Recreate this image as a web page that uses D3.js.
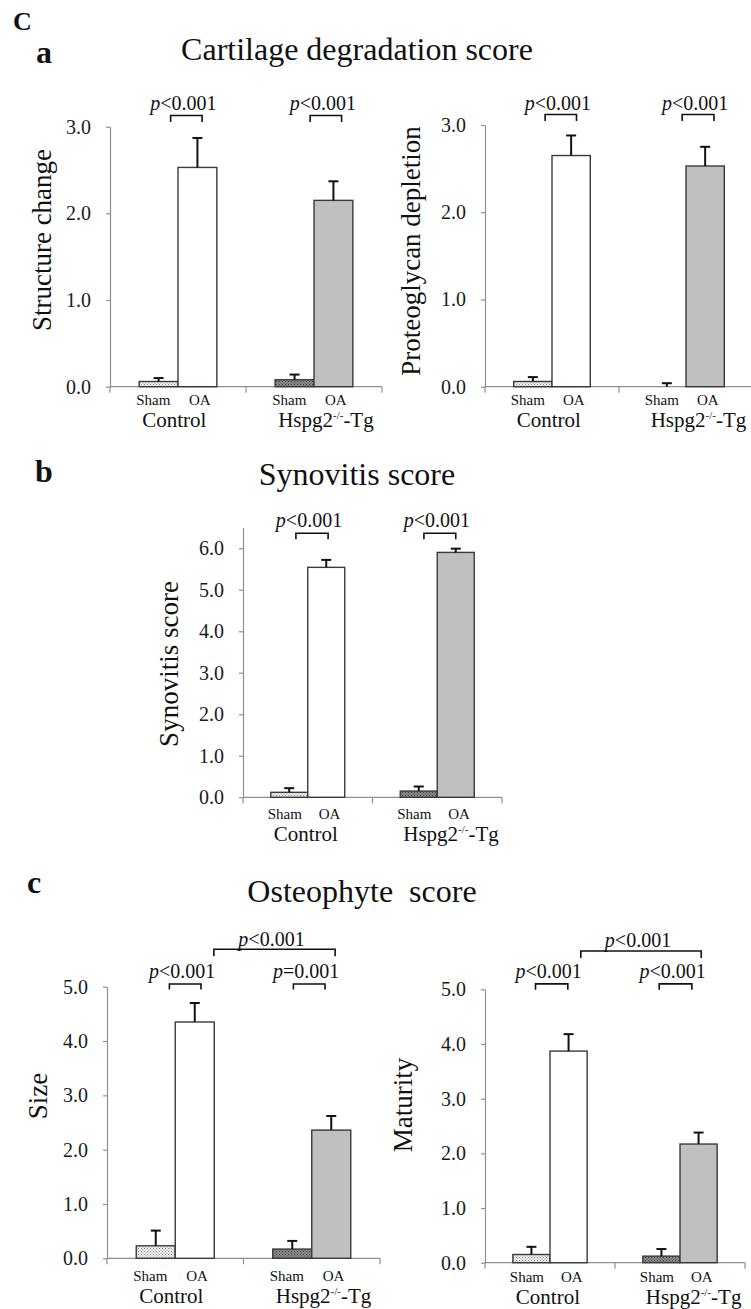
<!DOCTYPE html>
<html>
<head>
<meta charset="utf-8">
<script src="https://cdn.jsdelivr.net/npm/d3@7"></script>
<style>
  body { margin: 0; background: #fff; }
  svg { font-family: "Liberation Serif", "Times New Roman", serif; }
</style>
</head>
<body>
<svg id="fig" width="751" height="1309"></svg>
<script>
// ---- data ----
const groups = ["Control", "Hspg2"];
const treatments = ["Sham", "OA"];

const ticks3 = [0, 1, 2, 3];
const ticks6 = [0, 1, 2, 3, 4, 5, 6];
const ticks5 = [0, 1, 2, 3, 4, 5];

// order: Control Sham, Control OA, Hspg2 Sham, Hspg2 OA
const structureMean = [0.06, 2.53, 0.08, 2.15];
const structureSem = [0.04, 0.34, 0.06, 0.22];

const proteoglycanMean = [0.06, 2.65, 0.0, 2.53];
const proteoglycanSem = [0.05, 0.23, 0.04, 0.22];

const synovitisMean = [0.12, 5.54, 0.15, 5.90];
const synovitisSem = [0.10, 0.18, 0.11, 0.09];

const sizeMean = [0.23, 4.35, 0.17, 2.36];
const sizeSem = [0.28, 0.35, 0.15, 0.26];

const maturityMean = [0.15, 3.87, 0.12, 2.17];
const maturitySem = [0.14, 0.31, 0.13, 0.21];

const svg = d3.select("#fig");

// fill patterns for the sham bars
const defs = svg.append("defs");
function dots(id, bg, dot) {
  const p = defs.append("pattern").attr("id", id).attr("patternUnits", "userSpaceOnUse")
    .attr("width", 3).attr("height", 3);
  p.append("rect").attr("width", 3).attr("height", 3).attr("fill", bg);
  p.append("rect").attr("x", 0).attr("y", 0).attr("width", 1).attr("height", 1).attr("fill", dot);
  p.append("rect").attr("x", 1.5).attr("y", 1.5).attr("width", 1).attr("height", 1).attr("fill", dot);
}
dots("shamCtrl", "#f2f2f2", "#8a8a8a");
dots("shamTg", "#8c8c8c", "#3e3e3e");

const fills = {
  Control: { Sham: "url(#shamCtrl)", OA: "#ffffff" },
  Hspg2: { Sham: "url(#shamTg)", OA: "#c0c0c0" },
};

const axisColor = "#8f8f8f";

function panel(cfg) {
  const g = svg.append("g");
  const x = d3.scaleBand().domain(groups).range(cfg.xRange);
  const xi = d3.scaleBand().domain(treatments).range([0, x.bandwidth()])
    .paddingInner(0).paddingOuter(0.75);
  const bw = xi.bandwidth();
  const y = d3.scaleLinear().domain([0, cfg.max]).range(cfg.yRange);

  const rows = [];
  groups.forEach((gr, gi) => treatments.forEach((t, ti) => {
    rows.push({ g: gr, t: t, mean: cfg.mean[gi * 2 + ti], sem: cfg.sem[gi * 2 + ti] });
  }));

  // y axis
  const yAxis = d3.axisLeft(y).tickValues(cfg.ticks).tickFormat(d3.format(".1f"))
    .tickSize(4).tickSizeOuter(0).tickPadding(15);
  const ya = g.append("g").attr("transform", `translate(${cfg.xRange[0]},0)`).call(yAxis);
  ya.select(".domain").attr("stroke", axisColor).attr("stroke-width", 1.2);
  ya.selectAll(".tick line").attr("stroke", axisColor).attr("stroke-width", 1.2);
  ya.selectAll(".tick text").attr("font-size", 20).attr("fill", "#1a1a1a")
    .attr("font-family", "Liberation Serif, serif");

  // x axis: baseline with ticks at group boundaries
  const bounds = groups.map(d => x(d)).concat([cfg.xRange[1]]);
  g.append("line")
    .attr("x1", cfg.xRange[0]).attr("x2", cfg.xRange[1])
    .attr("y1", y(0)).attr("y2", y(0))
    .attr("stroke", axisColor).attr("stroke-width", 1.2);
  g.selectAll(".xtick").data(bounds).join("line").attr("class", "xtick")
    .attr("x1", d => d).attr("x2", d => d)
    .attr("y1", y(0)).attr("y2", y(0) + 6)
    .attr("stroke", axisColor).attr("stroke-width", 1.2);

  // bars
  g.selectAll(".bar").data(rows.filter(d => d.mean > 0)).join("rect").attr("class", "bar")
    .attr("x", d => x(d.g) + xi(d.t))
    .attr("y", d => y(d.mean))
    .attr("width", bw)
    .attr("height", d => y(0) - y(d.mean))
    .attr("fill", d => fills[d.g][d.t])
    .attr("stroke", "#3a3a3a").attr("stroke-width", 1.4);

  // error bars (upper only)
  const eb = g.selectAll(".err").data(rows).join("g").attr("class", "err");
  eb.append("line")
    .attr("x1", d => x(d.g) + xi(d.t) + bw / 2).attr("x2", d => x(d.g) + xi(d.t) + bw / 2)
    .attr("y1", d => y(d.mean)).attr("y2", d => y(d.mean + d.sem))
    .attr("stroke", "#111").attr("stroke-width", 2);
  eb.append("line")
    .attr("x1", d => x(d.g) + xi(d.t) + bw / 2 - 5).attr("x2", d => x(d.g) + xi(d.t) + bw / 2 + 5)
    .attr("y1", d => y(d.mean + d.sem)).attr("y2", d => y(d.mean + d.sem))
    .attr("stroke", "#111").attr("stroke-width", 2);

  // significance brackets
  cfg.brackets.forEach(b => {
    const xa = x(b.from[0]) + xi(b.from[1]) + b.from[2] * bw;
    const xb = x(b.to[0]) + xi(b.to[1]) + b.to[2] * bw;
    const yb = y(b.level);
    g.append("path")
      .attr("d", `M${xa},${yb + b.leg}V${yb}H${xb}V${yb + b.leg}`)
      .attr("fill", "none").attr("stroke", "#111").attr("stroke-width", 1.6);
    const t = g.append("text").attr("x", (xa + xb) / 2 - 3).attr("y", yb - b.gap)
      .attr("text-anchor", "middle").attr("font-size", 20).attr("fill", "#111");
    t.append("tspan").attr("font-style", "italic").text("p");
    t.append("tspan").text(b.text);
  });

  // category labels
  groups.forEach(gr => {
    g.append("text").attr("x", x(gr) + xi("Sham") - 3).attr("y", y(0) + cfg.labelDy[0])
      .attr("font-size", 15).attr("fill", "#111").text("Sham");
    g.append("text").attr("x", x(gr) + xi("OA") + 11).attr("y", y(0) + cfg.labelDy[0])
      .attr("font-size", 15).attr("fill", "#111").text("OA");
    const gl = g.append("text").attr("x", x(gr) + xi("Sham") + 3).attr("y", y(0) + cfg.labelDy[1])
      .attr("font-size", 21).attr("fill", "#111");
    if (gr === "Control") {
      gl.text("Control");
    } else {
      gl.append("tspan").text("Hspg2");
      gl.append("tspan").attr("font-size", 11).attr("dy", -8).text("-/-");
      gl.append("tspan").attr("dy", 8).text("-Tg");
    }
  });

  // y axis title
  g.append("text")
    .attr("transform", `translate(${cfg.yTitle[0]},${cfg.yTitle[1]}) rotate(-90)`)
    .attr("text-anchor", "middle").attr("font-size", 27).attr("fill", "#111")
    .text(cfg.yLabel);
}

// ---- headings ----
function heading(txt, x, y, size, weight) {
  svg.append("text").attr("x", x).attr("y", y).attr("font-size", size)
    .attr("font-weight", weight).attr("fill", "#111").style("white-space", "pre").text(txt);
}
heading("C", 13, 30, 26, "bold");
heading("a", 36, 63, 32, "bold");
heading("b", 35, 482, 32, "bold");
heading("c", 27, 893, 32, "bold");

function title(txt, cx, y) {
  svg.append("text").attr("x", cx).attr("y", y).attr("text-anchor", "middle")
    .attr("font-size", 32).attr("fill", "#111").style("white-space", "pre").text(txt);
}
title("Cartilage degradation score", 357, 60);
title("Synovitis score", 357, 485);
title("Osteophyte  score", 362, 902);

// ---- panels ----
panel({
  xRange: [110, 382], yRange: [386.7, 126.7], max: 3, ticks: ticks3,
  mean: structureMean, sem: structureSem, labelDy: [18, 40],
  yLabel: "Structure change", yTitle: [51, 240],
  brackets: [
    { from: ["Control", "Sham", 0.81], to: ["Control", "OA", 0.62], level: 3.13, leg: 6.5, gap: 5, text: "<0.001" },
    { from: ["Hspg2", "Sham", 0.9], to: ["Hspg2", "OA", 0.71], level: 3.13, leg: 6.5, gap: 5, text: "<0.001" },
  ],
});

panel({
  xRange: [485, 753], yRange: [386.7, 125], max: 3, ticks: ticks3,
  mean: proteoglycanMean, sem: proteoglycanSem, labelDy: [18, 40],
  yLabel: "Proteoglycan depletion", yTitle: [420, 251],
  brackets: [
    { from: ["Control", "Sham", 0.82], to: ["Control", "OA", 0.64], level: 3.12, leg: 6.5, gap: 5, text: "<0.001" },
    { from: ["Hspg2", "Sham", 0.9], to: ["Hspg2", "OA", 0.73], level: 3.12, leg: 6.5, gap: 5, text: "<0.001" },
  ],
});

panel({
  xRange: [243, 502], yRange: [797.3, 527.5], max: 6.5, ticks: ticks6,
  mean: synovitisMean, sem: synovitisSem, labelDy: [22, 44],
  yLabel: "Synovitis score", yTitle: [178, 664],
  brackets: [
    { from: ["Control", "Sham", 0.68], to: ["Control", "OA", 0.55], level: 6.36, leg: 6, gap: 6, text: "<0.001" },
    { from: ["Hspg2", "Sham", 0.64], to: ["Hspg2", "OA", 0.5], level: 6.36, leg: 6, gap: 6, text: "<0.001" },
  ],
});

panel({
  xRange: [107, 380], yRange: [1258.3, 986.7], max: 5, ticks: ticks5,
  mean: sizeMean, sem: sizeSem, labelDy: [22.5, 44.5],
  yLabel: "Size", yTitle: [47, 1096],
  brackets: [
    { from: ["Control", "Sham", 0.85], to: ["Control", "OA", 0.66], level: 5.05, leg: 5.5, gap: 5.5, text: "<0.001" },
    { from: ["Hspg2", "Sham", 0.53], to: ["Hspg2", "OA", 0.34], level: 5.05, leg: 5.5, gap: 5.5, text: "=0.001" },
    { from: ["Control", "OA", 0.99], to: ["Hspg2", "OA", 0.6], level: 5.69, leg: 7, gap: 3.5, text: "<0.001" },
  ],
});

panel({
  xRange: [485, 745], yRange: [1262.7, 989.3], max: 5, ticks: ticks5,
  mean: maturityMean, sem: maturitySem, labelDy: [19, 41],
  yLabel: "Maturity", yTitle: [412, 1105],
  brackets: [
    { from: ["Control", "Sham", 0.61], to: ["Control", "OA", 0.48], level: 5.1, leg: 6, gap: 5.5, text: "<0.001" },
    { from: ["Hspg2", "Sham", 0.44], to: ["Hspg2", "OA", 0.32], level: 5.1, leg: 6, gap: 5.5, text: "<0.001" },
    { from: ["Control", "OA", 0.83], to: ["Hspg2", "OA", 0.57], level: 5.7, leg: 7, gap: 4, text: "<0.001" },
  ],
});
</script>
</body>
</html>
